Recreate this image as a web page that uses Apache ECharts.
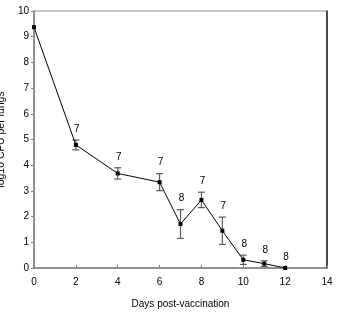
<!DOCTYPE html>
<html>
<head>
<meta charset="utf-8">
<script src="https://cdn.jsdelivr.net/npm/echarts@6/dist/echarts.min.js"></script>
<style>
  html, body { margin: 0; padding: 0; background: #fff; }
  #chart { width: 338px; height: 313px; }
</style>
</head>
<body>
<div id="chart"></div>
<script>
// days post-vaccination
const days = [0, 2, 4, 6, 7, 8, 9, 10, 11, 12]
// mean log10 CFU
const meanCfu = [9.37, 4.79, 3.68, 3.34, 1.71, 2.65, 1.45, 0.32, 0.17, 0.0]
// error bar half widths
const errCfu = [0, 0.19, 0.22, 0.33, 0.56, 0.30, 0.53, 0.18, 0.11, 0]
// number of mice above each point
const nMice = ['', '7', '7', '7', '8', '7', '7', '8', '8', '8']
const xTicks = [0, 2, 4, 6, 8, 10, 12, 14]
const yTicks = [0, 1, 2, 3, 4, 5, 6, 7, 8, 9, 10]

const font = 'Liberation Sans, Arial, sans-serif'
const chart = echarts.init(document.getElementById('chart'))

const lineData = days.map((d, i) => [d, meanCfu[i]])
const errData = days.map((d, i) => [d, meanCfu[i] - errCfu[i], meanCfu[i] + errCfu[i], i])

chart.setOption({
  animation: false,
  grid: {
    left: 34, right: 11, top: 11, bottom: 45,
    outerBoundsMode: 'none', containLabel: false,
    show: true, borderColor: '#8c8c8c', borderWidth: 1
  },
  xAxis: {
    type: 'value', min: xTicks[0], max: xTicks[xTicks.length - 1], interval: 2,
    name: 'Days post-vaccination', nameLocation: 'middle', nameGap: 31,
    nameTextStyle: { fontFamily: font, fontSize: 10, color: '#000' },
    axisLine: { show: true, onZero: false, lineStyle: { color: '#808080', width: 1.5 } },
    axisTick: { show: true, inside: true, length: 3, lineStyle: { color: '#808080' } },
    axisLabel: { fontFamily: font, fontSize: 10, color: '#000', margin: 9 },
    splitLine: { show: false }
  },
  yAxis: [{
    type: 'value', min: yTicks[0], max: yTicks[yTicks.length - 1], interval: 1,
    name: 'log10 CFU per lungs', nameLocation: 'middle', nameGap: 24, nameRotate: 90,
    nameTextStyle: { fontFamily: font, fontSize: 10.5, color: '#000' },
    axisLine: { show: true, lineStyle: { color: '#808080', width: 1.5 } },
    axisTick: { show: true, length: 3, lineStyle: { color: '#808080' } },
    axisLabel: { fontFamily: font, fontSize: 10, color: '#000', margin: 5 },
    splitLine: { show: false }
  }, {
    type: 'value', min: 0, max: 10, position: 'right',
    axisLine: { show: true, lineStyle: { color: '#222', width: 1.5 } },
    axisTick: { show: false }, axisLabel: { show: false }, splitLine: { show: false }
  }],
  series: [
    {
      type: 'custom',
      z: 3,
      data: errData,
      renderItem: (params, api) => {
        const x = api.value(0)
        const lo = api.coord([x, api.value(1)])
        const hi = api.coord([x, api.value(2)])
        const idx = api.value(3)
        const cap = 3.5
        const children = []
        if (hi[1] < lo[1] - 0.5) {
          const st = { stroke: '#5a5a5a', lineWidth: 1.2 }
          children.push(
            { type: 'line', shape: { x1: hi[0], y1: hi[1], x2: lo[0], y2: lo[1] }, style: st },
            { type: 'line', shape: { x1: hi[0] - cap, y1: hi[1], x2: hi[0] + cap, y2: hi[1] }, style: st },
            { type: 'line', shape: { x1: lo[0] - cap, y1: lo[1], x2: lo[0] + cap, y2: lo[1] }, style: st }
          )
        }
        children.push({
          type: 'text',
          style: {
            x: hi[0] + 1, y: hi[1] - 11, text: nMice[idx],
            fill: '#000', font: '10px ' + font, align: 'center', verticalAlign: 'middle'
          }
        })
        return { type: 'group', children }
      }
    },
    {
      type: 'line',
      z: 4,
      data: lineData,
      symbol: 'rect',
      symbolSize: 4,
      itemStyle: { color: '#000' },
      lineStyle: { color: '#000', width: 1 }
    }
  ]
})
</script>
</body>
</html>
